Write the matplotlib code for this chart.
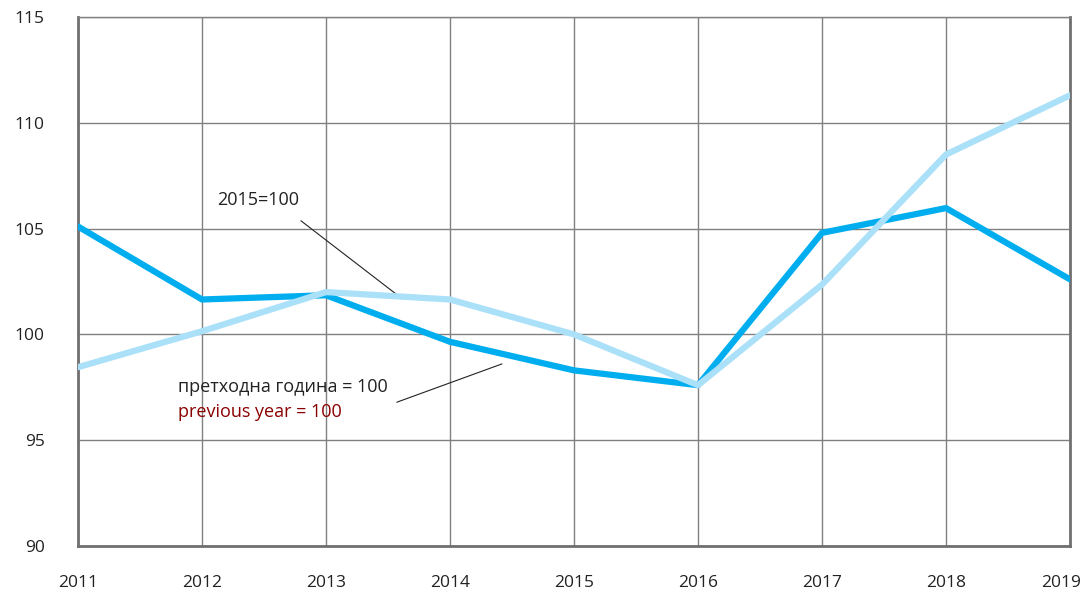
import matplotlib
matplotlib.use("Agg")
import matplotlib.pyplot as plt
from matplotlib.transforms import ScaledTranslation

years = [2011, 2012, 2013, 2014, 2015, 2016, 2017, 2018, 2019]
prev_year = [105.1, 101.65, 101.85, 99.65, 98.3, 97.6, 104.8, 105.97, 102.6]
base_2015 = [98.45, 100.15, 102.0, 101.65, 100.0, 97.6, 102.35, 108.5, 111.3]
yticks = [90, 95, 100, 105, 110, 115]

plt.rcParams['font.family'] = ['Open Sans', 'DejaVu Sans']

fig = plt.figure(figsize=(10.86, 5.96), dpi=100)
ax = fig.add_axes([78/1086, 1-546/596, (1070-78)/1086, (546-17)/596])

ax.plot(years, prev_year, color='#00AEEF', lw=4.5, solid_capstyle='round', zorder=3)
ax.plot(years, base_2015, color='#ABE0F9', lw=4.5, solid_capstyle='round', zorder=4)

ax.set_xlim(2011, 2019)
ax.set_ylim(90, 115)
ax.set_xticks(years)
ax.set_yticks(yticks)
ax.set_xticklabels([str(y) for y in years], fontsize=12.5, color='#222222')
ax.set_yticklabels([str(v) for v in yticks], fontsize=12.5, color='#222222')
ax.tick_params(axis='x', length=0, pad=21)
ax.tick_params(axis='y', length=0, pad=24)
last = ax.get_xticklabels()[-1]
last.set_transform(last.get_transform() + ScaledTranslation(-9/100, 0, fig.dpi_scale_trans))
ax.grid(True, color='#808080', lw=1)
ax.set_axisbelow(True)
for s in ['left', 'bottom', 'right']:
    ax.spines[s].set_color('#707070')
    ax.spines[s].set_linewidth(2)
ax.spines['top'].set_color('#808080')
ax.spines['top'].set_linewidth(1)

ax.text(2012.12, 106.1, '2015=100', fontsize=13, color='#222222')
ax.annotate('', xy=(2013.6, 101.75), xytext=(2012.78, 105.45),
            arrowprops=dict(arrowstyle='-', color='#222222', lw=0.8))
ax.text(2011.81, 97.3, 'претходна година = 100', fontsize=13, color='#222222')
ax.text(2011.81, 96.1, 'previous year = 100', fontsize=13, color='#8B0000')
ax.annotate('', xy=(2014.44, 98.65), xytext=(2013.55, 96.75),
            arrowprops=dict(arrowstyle='-', color='#222222', lw=0.8))

fig.savefig('out.png', dpi=100)
